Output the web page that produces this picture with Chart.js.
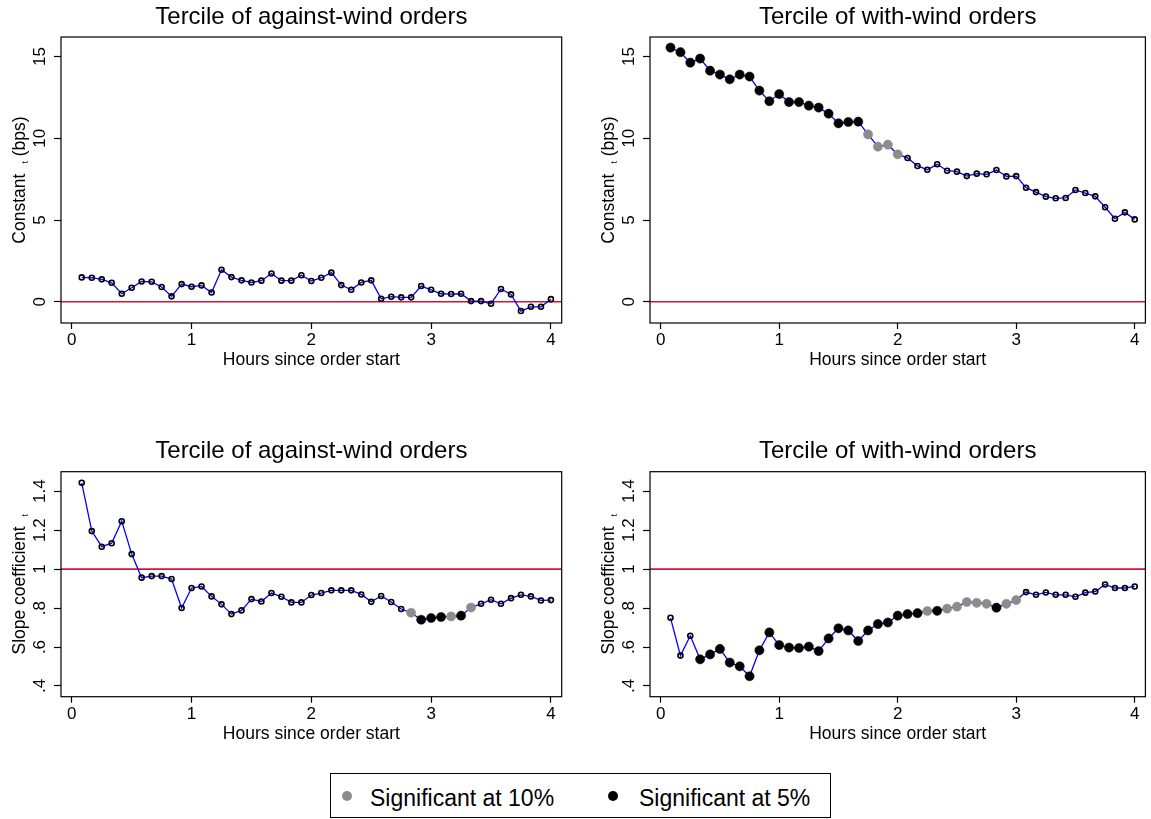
<!DOCTYPE html>
<html>
<head>
<meta charset="utf-8">
<script src="https://cdn.jsdelivr.net/npm/chart.js@4.4.1/dist/chart.umd.min.js"></script>
<style>
  body { margin: 0; background: #fff; width: 1151px; height: 819px; position: relative; overflow: hidden; font-family: "Liberation Sans", Arial, sans-serif; }
  canvas { position: absolute; }
  #legend { position: absolute; left: 330px; top: 773px; width: 501px; height: 45px; border: 1px solid #000; box-sizing: border-box; }
  #legend .dot { position: absolute; top: 17px; width: 10px; height: 10px; border-radius: 50%; }
  #legend .lab { position: absolute; top: 2px; line-height: 44px; font-size: 23px; color: #000; white-space: nowrap; }
</style>
</head>
<body>
<canvas id="c1" width="575" height="380" style="left:0;top:0"></canvas>
<canvas id="c2" width="576" height="380" style="left:575px;top:0"></canvas>
<canvas id="c3" width="575" height="320" style="left:0;top:430px"></canvas>
<canvas id="c4" width="576" height="320" style="left:575px;top:430px"></canvas>
<div id="legend">
  <span class="dot" style="left:11px;background:#8c8c8c"></span><span class="lab" style="left:39px">Significant at 10%</span>
  <span class="dot" style="left:277px;background:#000"></span><span class="lab" style="left:308px">Significant at 5%</span>
</div>
<script>
// hours since order start, one point every 5 minutes
const hours = [0.083, 0.167, 0.25, 0.333, 0.417, 0.5, 0.583, 0.667, 0.75, 0.833, 0.917, 1.0,
  1.083, 1.167, 1.25, 1.333, 1.417, 1.5, 1.583, 1.667, 1.75, 1.833, 1.917, 2.0,
  2.083, 2.167, 2.25, 2.333, 2.417, 2.5, 2.583, 2.667, 2.75, 2.833, 2.917, 3.0,
  3.083, 3.167, 3.25, 3.333, 3.417, 3.5, 3.583, 3.667, 3.75, 3.833, 3.917, 4.0];

// constant (bps)
const constAgainst = [1.49, 1.47, 1.37, 1.16, 0.49, 0.86, 1.24, 1.22, 0.90, 0.33, 1.08, 0.92,
  1.00, 0.57, 1.96, 1.51, 1.31, 1.18, 1.29, 1.73, 1.29, 1.29, 1.62, 1.27,
  1.47, 1.78, 1.02, 0.73, 1.18, 1.31, 0.18, 0.31, 0.27, 0.27, 0.96, 0.73,
  0.49, 0.47, 0.49, 0.04, 0.04, -0.12, 0.78, 0.45, -0.57, -0.31, -0.31, 0.16];
const constWith = [15.55, 15.27, 14.63, 14.88, 14.14, 13.90, 13.61, 13.90, 13.78, 12.92, 12.27, 12.71,
  12.22, 12.22, 12.00, 11.88, 11.51, 10.92, 11.00, 11.02, 10.24, 9.49, 9.61, 9.02,
  8.80, 8.31, 8.08, 8.41, 8.02, 7.96, 7.69, 7.84, 7.80, 8.06, 7.67, 7.69,
  6.98, 6.71, 6.43, 6.33, 6.35, 6.84, 6.65, 6.45, 5.78, 5.08, 5.47, 5.04];

// slope coefficient
const slopeAgainst = [1.443, 1.195, 1.115, 1.133, 1.246, 1.077, 0.956, 0.964, 0.964, 0.949, 0.800, 0.903,
  0.911, 0.860, 0.819, 0.769, 0.788, 0.846, 0.834, 0.877, 0.858, 0.829, 0.829, 0.867,
  0.877, 0.891, 0.891, 0.891, 0.870, 0.832, 0.862, 0.831, 0.795, 0.776, 0.740, 0.749,
  0.754, 0.757, 0.761, 0.803, 0.822, 0.843, 0.822, 0.851, 0.868, 0.860, 0.839, 0.841];
const slopeWith = [0.750, 0.556, 0.658, 0.537, 0.562, 0.590, 0.520, 0.501, 0.450, 0.583, 0.675, 0.610,
  0.597, 0.595, 0.602, 0.579, 0.644, 0.696, 0.685, 0.631, 0.685, 0.718, 0.726, 0.761,
  0.769, 0.774, 0.785, 0.786, 0.797, 0.807, 0.831, 0.827, 0.822, 0.802, 0.822, 0.841,
  0.882, 0.868, 0.880, 0.868, 0.868, 0.858, 0.879, 0.885, 0.921, 0.903, 0.903, 0.911];

// significance: 0 = none, 1 = 10%, 2 = 5%
const sigConstAgainst = [0,0,0,0,0,0,0,0,0,0,0,0, 0,0,0,0,0,0,0,0,0,0,0,0,
  0,0,0,0,0,0,0,0,0,0,0,0, 0,0,0,0,0,0,0,0,0,0,0,0];
const sigConstWith = [2,2,2,2,2,2,2,2,2,2,2,2, 2,2,2,2,2,2,2,2,1,1,1,1,
  0,0,0,0,0,0,0,0,0,0,0,0, 0,0,0,0,0,0,0,0,0,0,0,0];
const sigSlopeAgainst = [0,0,0,0,0,0,0,0,0,0,0,0, 0,0,0,0,0,0,0,0,0,0,0,0,
  0,0,0,0,0,0,0,0,0,1,2,2, 2,1,2,1,0,0,0,0,0,0,0,0];
const sigSlopeWith = [0,0,0,2,2,2,2,2,2,2,2,2, 2,2,2,2,2,2,2,2,2,2,2,2,
  2,2,1,2,1,1,1,1,1,2,1,1, 0,0,0,0,0,0,0,0,0,0,0,0];

const xTicks = [0, 1, 2, 3, 4];
const constTicks = [0, 5, 10, 15];
const constTickLabels = ["0", "5", "10", "15"];
const slopeTicks = [0.4, 0.6, 0.8, 1.0, 1.2, 1.4];
const slopeTickLabels = [".4", ".6", ".8", "1", "1.2", "1.4"];

const FONT = '"Liberation Sans", Arial, sans-serif';
Chart.defaults.font.family = FONT;
Chart.defaults.color = '#000';

// box around the plot, rotated y tick labels and the y title
const stataFrame = {
  id: 'stataFrame',
  afterDraw(chart, args, o) {
    const ctx = chart.ctx;
    const a = chart.chartArea;
    const y = chart.scales.y;
    ctx.save();
    ctx.strokeStyle = '#000';
    ctx.lineWidth = 1.2;
    ctx.strokeRect(a.left, a.top, a.right - a.left, a.bottom - a.top);

    ctx.fillStyle = '#000';
    ctx.font = '17px ' + FONT;
    ctx.textAlign = 'center';
    ctx.textBaseline = 'middle';
    o.ticks.forEach((v, i) => {
      ctx.save();
      ctx.translate(a.left - 21, y.getPixelForValue(v));
      ctx.rotate(-Math.PI / 2);
      ctx.fillText(o.labels[i], 0, 0);
      ctx.restore();
    });

    // y title: main text, gap where the symbol sits, small subscript t, tail
    const mainFont = '17.5px ' + FONT;
    const subFont = '9px ' + FONT;
    ctx.textAlign = 'left';
    ctx.textBaseline = 'alphabetic';
    ctx.font = mainFont;
    const w1 = ctx.measureText(o.title).width;
    const w3 = o.tail ? ctx.measureText(' ' + o.tail).width : 0;
    ctx.font = subFont;
    const w2 = ctx.measureText('t').width;
    const gap = 10;
    const total = w1 + gap + w2 + w3;
    ctx.translate(a.left - 42, (a.top + a.bottom) / 2);
    ctx.rotate(-Math.PI / 2);
    let x = -total / 2;
    ctx.font = mainFont;
    ctx.fillText(o.title, x, 6);
    x += w1 + gap;
    ctx.font = subFont;
    ctx.fillText('t', x, 9);
    x += w2;
    if (o.tail) {
      ctx.font = mainFont;
      ctx.fillText(' ' + o.tail, x, 6);
    }
    ctx.restore();
  }
};

function makePanel(id, title, values, sig, yMin, yMax, refValue, yTicks, yLabels, yTitle, yTail, pad) {
  const points = hours.map((h, i) => ({ x: h, y: values[i] }));
  return new Chart(document.getElementById(id), {
    type: 'line',
    data: {
      datasets: [
        {
          data: points,
          borderColor: '#0000ff',
          borderWidth: 1.3,
          tension: 0,
          fill: false,
          order: 1,
          pointRadius: c => sig[c.dataIndex] ? 4.6 : 2.5,
          pointBackgroundColor: c => sig[c.dataIndex] === 2 ? '#000' : (sig[c.dataIndex] === 1 ? '#8c8c8c' : 'rgba(0,0,0,0)'),
          pointBorderColor: c => sig[c.dataIndex] === 2 ? '#000' : (sig[c.dataIndex] === 1 ? '#8c8c8c' : '#000'),
          pointBorderWidth: c => sig[c.dataIndex] ? 0.5 : 1.6
        },
        {
          data: [{ x: -0.09, y: refValue }, { x: 4.09, y: refValue }],
          borderColor: '#d0143c',
          borderWidth: 1.6,
          pointRadius: 0,
          order: 2
        }
      ]
    },
    options: {
      responsive: false,
      animation: false,
      events: [],
      layout: { padding: pad.layout },
      plugins: {
        legend: { display: false },
        tooltip: { enabled: false },
        title: {
          display: true,
          text: title,
          fullSize: false,
          color: '#000',
          font: { size: 24, weight: 'normal', family: FONT },
          padding: pad.title
        },
        stataFrame: { ticks: yTicks, labels: yLabels, title: yTitle, tail: yTail }
      },
      scales: {
        x: {
          type: 'linear',
          min: -0.09,
          max: 4.09,
          afterBuildTicks: s => { s.ticks = xTicks.map(v => ({ value: v })); },
          afterFit: s => { s.height = 47.5; },
          ticks: { font: { size: 17 }, padding: 1, color: '#000', maxRotation: 0 },
          grid: { drawOnChartArea: false, drawTicks: true, tickLength: 6, color: '#000', tickWidth: 1.2 },
          border: { display: false },
          title: { display: true, text: 'Hours since order start', font: { size: 17.5 }, padding: 0, color: '#000' }
        },
        y: {
          type: 'linear',
          min: yMin,
          max: yMax,
          afterBuildTicks: s => { s.ticks = yTicks.map(v => ({ value: v })); },
          afterFit: s => { s.width = 7; },
          ticks: { display: false },
          grid: { drawOnChartArea: false, drawTicks: true, tickLength: 7, color: '#000', tickWidth: 1.2 },
          border: { display: false }
        }
      }
    },
    plugins: [stataFrame]
  });
}

const padTL = { layout: { left: 54, right: 13.3, top: 0, bottom: 9.5 }, title: { top: 2.6, bottom: 5.6 } };
const padTR = { layout: { left: 68, right: 1.7, top: 0, bottom: 9.5 }, title: { top: 2.6, bottom: 5.6 } };
const padBL = { layout: { left: 54, right: 13.3, top: 0, bottom: 5.8 }, title: { top: 7.3, bottom: 5.6 } };
const padBR = { layout: { left: 68, right: 1.7, top: 0, bottom: 5.8 }, title: { top: 7.3, bottom: 5.6 } };

makePanel('c1', 'Tercile of against-wind orders', constAgainst, sigConstAgainst, -1.3, 16.2, 0,
  constTicks, constTickLabels, 'Constant', '(bps)', padTL);
makePanel('c2', 'Tercile of with-wind orders', constWith, sigConstWith, -1.3, 16.2, 0,
  constTicks, constTickLabels, 'Constant', '(bps)', padTR);
makePanel('c3', 'Tercile of against-wind orders', slopeAgainst, sigSlopeAgainst, 0.345, 1.5, 1,
  slopeTicks, slopeTickLabels, 'Slope coefficient', '', padBL);
makePanel('c4', 'Tercile of with-wind orders', slopeWith, sigSlopeWith, 0.345, 1.5, 1,
  slopeTicks, slopeTickLabels, 'Slope coefficient', '', padBR);
</script>
</body>
</html>
